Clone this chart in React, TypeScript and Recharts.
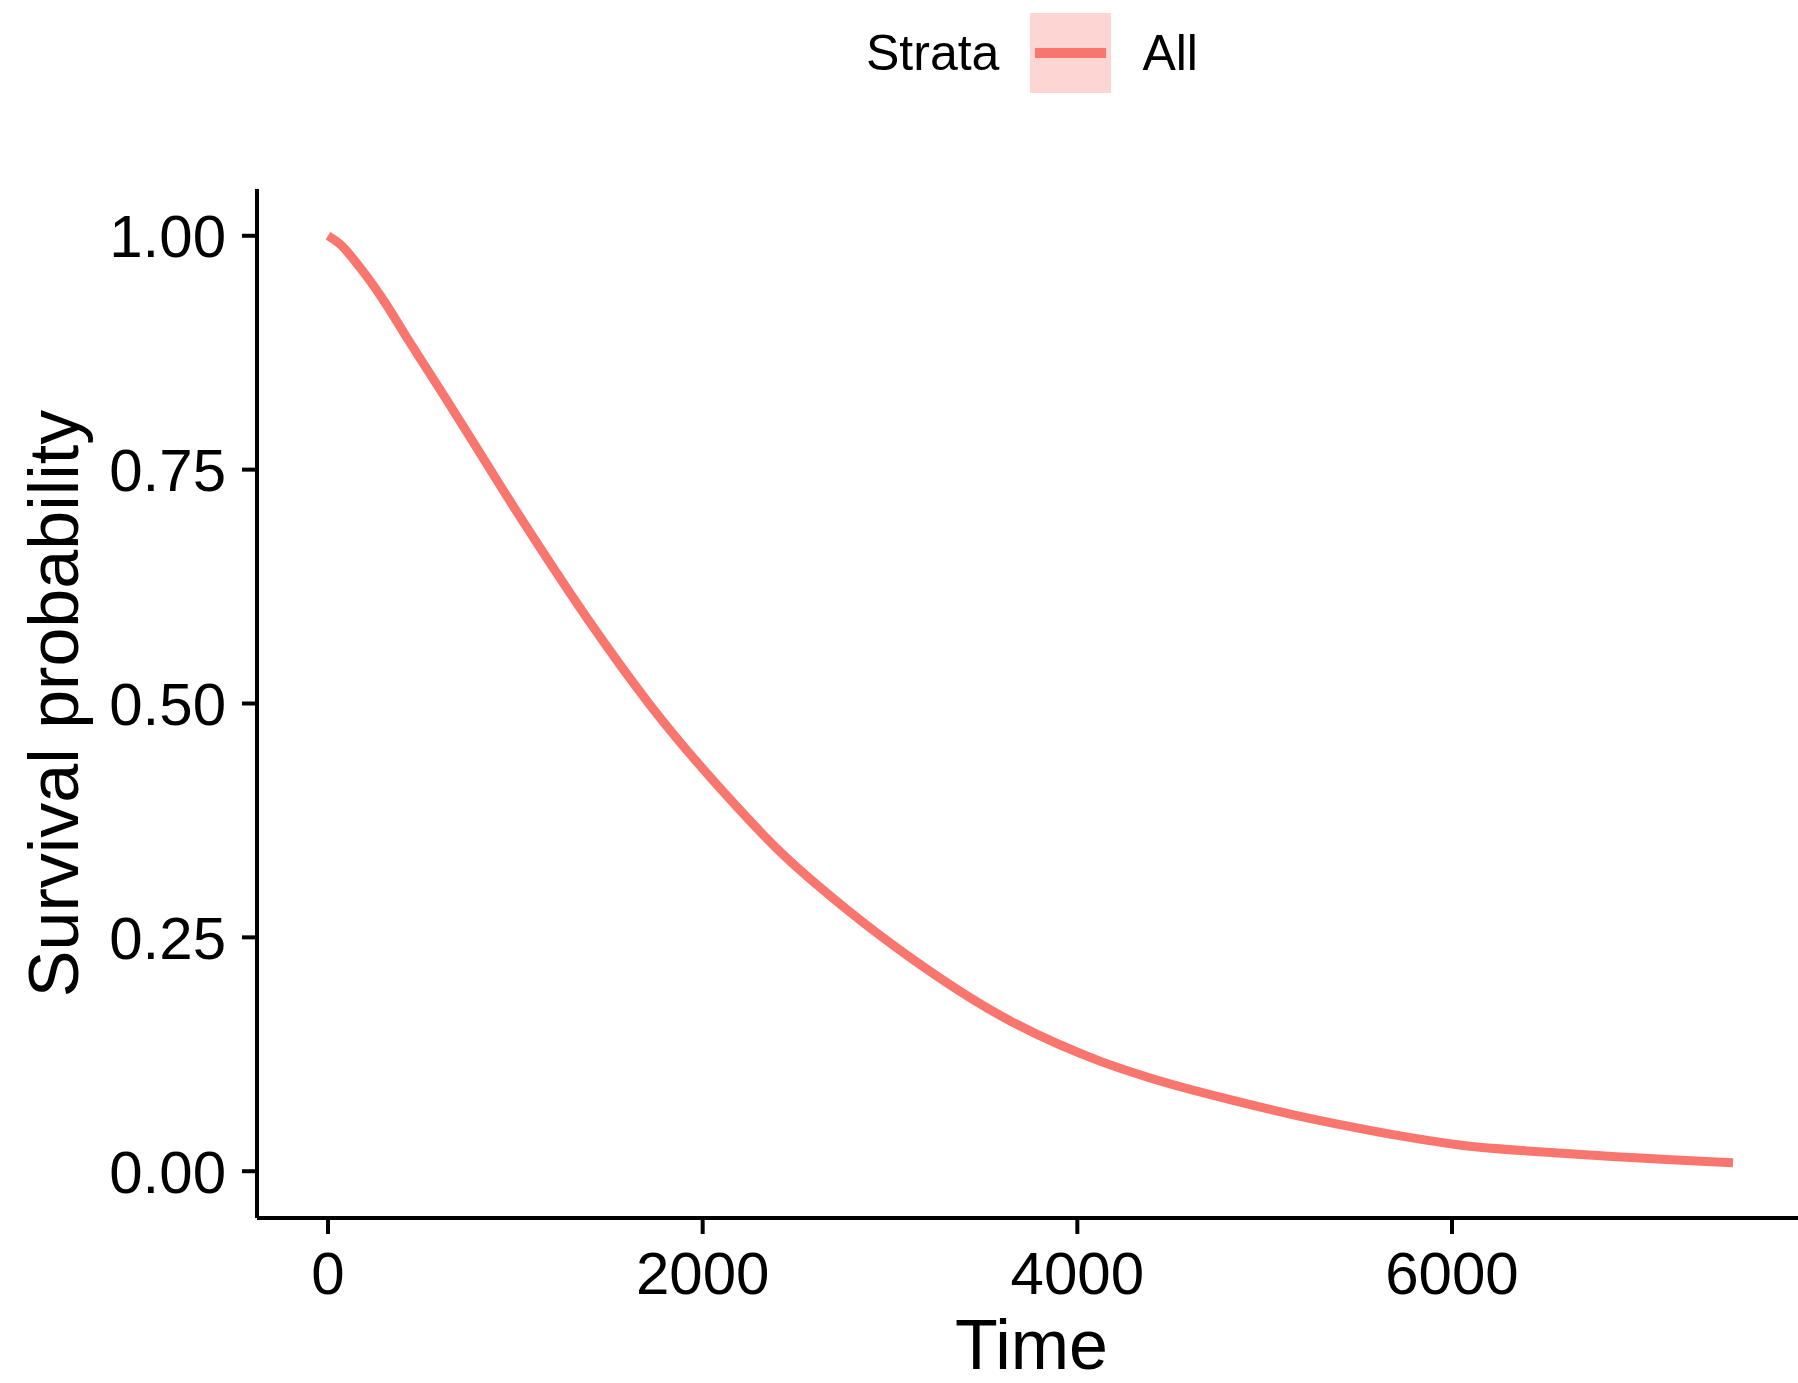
import { Label, Legend, Line, LineChart, XAxis, YAxis } from "recharts";

const FONT = '"Liberation Sans", Arial, Helvetica, sans-serif';
const LINE_COLOR = "#F8766D";

// survival curve
const times = [
  0, 64, 171, 293, 437, 613, 795, 960, 1147, 1408, 1717, 2181, 2411, 2768, 3104,
  3584, 4117, 4384, 4827, 5184, 5451, 5717, 6040, 6610, 7500
];
const survival = [
  1.0, 0.991, 0.966, 0.932, 0.886, 0.831, 0.773, 0.72, 0.662, 0.584, 0.499, 0.39,
  0.342, 0.28, 0.229, 0.167, 0.118, 0.1, 0.076, 0.059, 0.048, 0.038, 0.028, 0.019,
  0.009
];
const xTicks = [0, 2000, 4000, 6000];
const yTicks = [0, 0.25, 0.5, 0.75, 1];
const strataLabel = "Strata";
const seriesName = "All";

const data = times.map((t, i) => ({ time: t, surv: survival[i] }));

function StrataLegend() {
  return (
    <div
      style={{
        display: "flex",
        alignItems: "center",
        fontFamily: FONT,
        fontSize: 50,
        color: "#000",
        whiteSpace: "nowrap"
      }}
    >
      <span>{strataLabel}</span>
      <span
        style={{
          position: "relative",
          display: "inline-block",
          width: 81,
          height: 80,
          marginLeft: 31,
          background: "#FDD5D2"
        }}
      >
        <span
          style={{
            position: "absolute",
            left: 5,
            right: 5,
            top: 35,
            height: 10,
            background: LINE_COLOR
          }}
        />
      </span>
      <span style={{ marginLeft: 31 }}>{seriesName}</span>
    </div>
  );
}

export default function App() {
  const axisStroke = { stroke: "#000", strokeWidth: 4 };
  const tickStyle = { fill: "#000", fontSize: 60, fontFamily: FONT };

  return (
    <div style={{ position: "absolute", left: 0, top: 0, width: 1798, height: 1383, background: "#fff" }}>
      <LineChart
        width={1798}
        height={1383}
        data={data}
        margin={{ top: 189, right: 0, bottom: 0, left: 0 }}
      >
        <XAxis
          dataKey="time"
          type="number"
          domain={[-379, 7847]}
          ticks={xTicks}
          height={165}
          tickSize={16}
          tickMargin={17}
          axisLine={axisStroke}
          tickLine={axisStroke}
          tick={tickStyle}
        >
          <Label
            value="Time"
            position="center"
            dx={4}
            dy={44}
            style={{ fill: "#000", fontSize: 70, fontFamily: FONT }}
          />
        </XAxis>
        <YAxis
          type="number"
          domain={[-0.05, 1.05]}
          ticks={yTicks}
          width={257}
          tickSize={15}
          tickMargin={16}
          axisLine={axisStroke}
          tickLine={axisStroke}
          tick={tickStyle}
          tickFormatter={(v) => Number(v).toFixed(2)}
        >
          <Label
            value="Survival probability"
            position="center"
            angle={-90}
            dx={-75}
            style={{ fill: "#000", fontSize: 70, fontFamily: FONT }}
          />
        </YAxis>
        <Legend
          layout="horizontal"
          verticalAlign="middle"
          align="center"
          content={() => <StrataLegend />}
          wrapperStyle={{ left: 866, top: 13, width: "auto", height: "auto" }}
        />
        <Line
          type="monotone"
          dataKey="surv"
          name={seriesName}
          stroke={LINE_COLOR}
          strokeWidth={9}
          dot={false}
          activeDot={false}
          isAnimationActive={false}
        />
      </LineChart>
    </div>
  );
}
